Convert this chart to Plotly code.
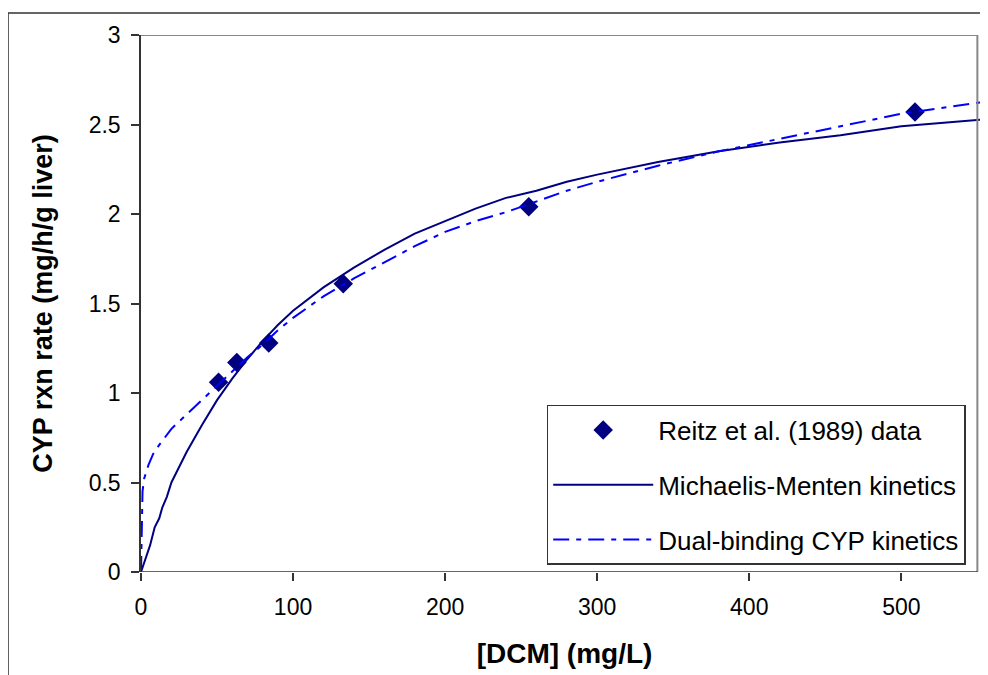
import plotly.graph_objects as go

# Observed data (Reitz et al. 1989)
data_x = [51, 63, 84, 133, 255, 509]
data_y = [1.06, 1.17, 1.28, 1.61, 2.04, 2.57]

# Michaelis-Menten kinetics curve
mm_x = [0, 3, 6, 9, 12, 14, 17, 20, 30, 40, 50, 60, 70, 80, 90, 100, 120, 140, 160, 180,
        200, 220, 240, 260, 280, 300, 340, 380, 420, 460, 500, 557]
mm_y = [0, 0.07, 0.15, 0.25, 0.30, 0.36, 0.42, 0.50, 0.67, 0.82, 0.96, 1.08, 1.19, 1.29,
        1.38, 1.46, 1.59, 1.70, 1.80, 1.89, 1.96, 2.03, 2.09, 2.13, 2.18, 2.22, 2.29, 2.35,
        2.40, 2.44, 2.49, 2.53]

# Dual-binding CYP kinetics curve
db_x = [0, 0.5, 1, 2, 5, 8, 12, 20, 30, 40, 50, 60, 70, 80, 90, 100, 120, 140, 160, 180,
        200, 220, 240, 260, 280, 300, 340, 380, 420, 460, 500, 557]
db_y = [0, 0.30, 0.45, 0.52, 0.60, 0.66, 0.71, 0.80, 0.88, 0.96, 1.04, 1.12, 1.20, 1.27,
        1.35, 1.42, 1.54, 1.64, 1.73, 1.82, 1.90, 1.96, 2.01, 2.07, 2.13, 2.18, 2.27, 2.35,
        2.42, 2.49, 2.56, 2.63]

x_ticks = [0, 100, 200, 300, 400, 500]
y_ticks = [0, 0.5, 1, 1.5, 2, 2.5, 3]
y_tick_text = ["0", "0.5", "1", "1.5", "2", "2.5", "3"]
x_max_axis = 550

FONT = "Liberation Sans, Arial, sans-serif"

fig = go.Figure()
fig.add_trace(go.Scatter(x=data_x, y=data_y, mode="markers", name="Reitz et al. (1989) data",
                         legendgroup="a",
                         marker=dict(symbol="diamond", size=15, color="#000080")))
fig.add_trace(go.Scatter(x=mm_x, y=mm_y, mode="lines", name="Michaelis-Menten kinetics",
                         legendgroup="b",
                         line=dict(color="#000080", width=2)))
fig.add_trace(go.Scatter(x=db_x, y=db_y, mode="lines", name="Dual-binding CYP kinetics",
                         legendgroup="c",
                         line=dict(color="#0000FF", width=2, dash="16px,7px,5px,7px")))

# plot-area border (top/right, gray) and x axis line
fig.add_shape(type="line", xref="x", yref="y", x0=0, x1=x_max_axis, y0=3, y1=3,
              line=dict(color="#888888", width=2))
fig.add_shape(type="line", xref="x", yref="y", x0=x_max_axis, x1=x_max_axis, y0=0, y1=3,
              line=dict(color="#888888", width=2))
fig.add_shape(type="line", xref="x", yref="y", x0=0, x1=x_max_axis, y0=0, y1=0,
              line=dict(color="#333333", width=1.5), layer="above")
# outer chart border
fig.add_shape(type="rect", xref="paper", yref="paper", x0=-0.157, x1=1.05, y0=-0.4, y1=1.041,
              line=dict(color="#333333", width=1.5))

fig.update_layout(
    width=980, height=667,
    margin=dict(l=133, r=0, t=27, b=103, autoexpand=False),
    paper_bgcolor="white", plot_bgcolor="white",
    font=dict(family=FONT, size=22, color="black"),
    showlegend=True,
    legend=dict(x=0.479, y=0.311, xanchor="left", yanchor="top",
                bgcolor="white", bordercolor="#333333", borderwidth=1.5,
                font=dict(family=FONT, size=26, color="black"),
                itemwidth=100, tracegroupgap=18, traceorder="grouped"),
    xaxis=dict(range=[0, 557], tickvals=x_ticks, ticks="outside", ticklen=8,
               tickcolor="#333333", tickwidth=1.5, showline=False, showgrid=False,
               zeroline=False, ticklabelstandoff=6, automargin=False,
               tickfont=dict(size=23),
               title=dict(text="<b>[DCM] (mg/L)</b>", font=dict(family=FONT, size=28),
                          standoff=24)),
    yaxis=dict(range=[0, 3], tickvals=y_ticks, ticktext=y_tick_text, ticks="outside",
               ticklen=8, tickcolor="#333333", tickwidth=1.5, showline=True,
               linecolor="#333333", linewidth=1.5, showgrid=False, zeroline=False,
               ticklabelstandoff=6, automargin=False, tickfont=dict(size=23),
               title=dict(text="<b>CYP rxn rate (mg/h/g liver)</b>",
                          font=dict(family=FONT, size=27), standoff=28)),
)

fig.write_html("out.html")
